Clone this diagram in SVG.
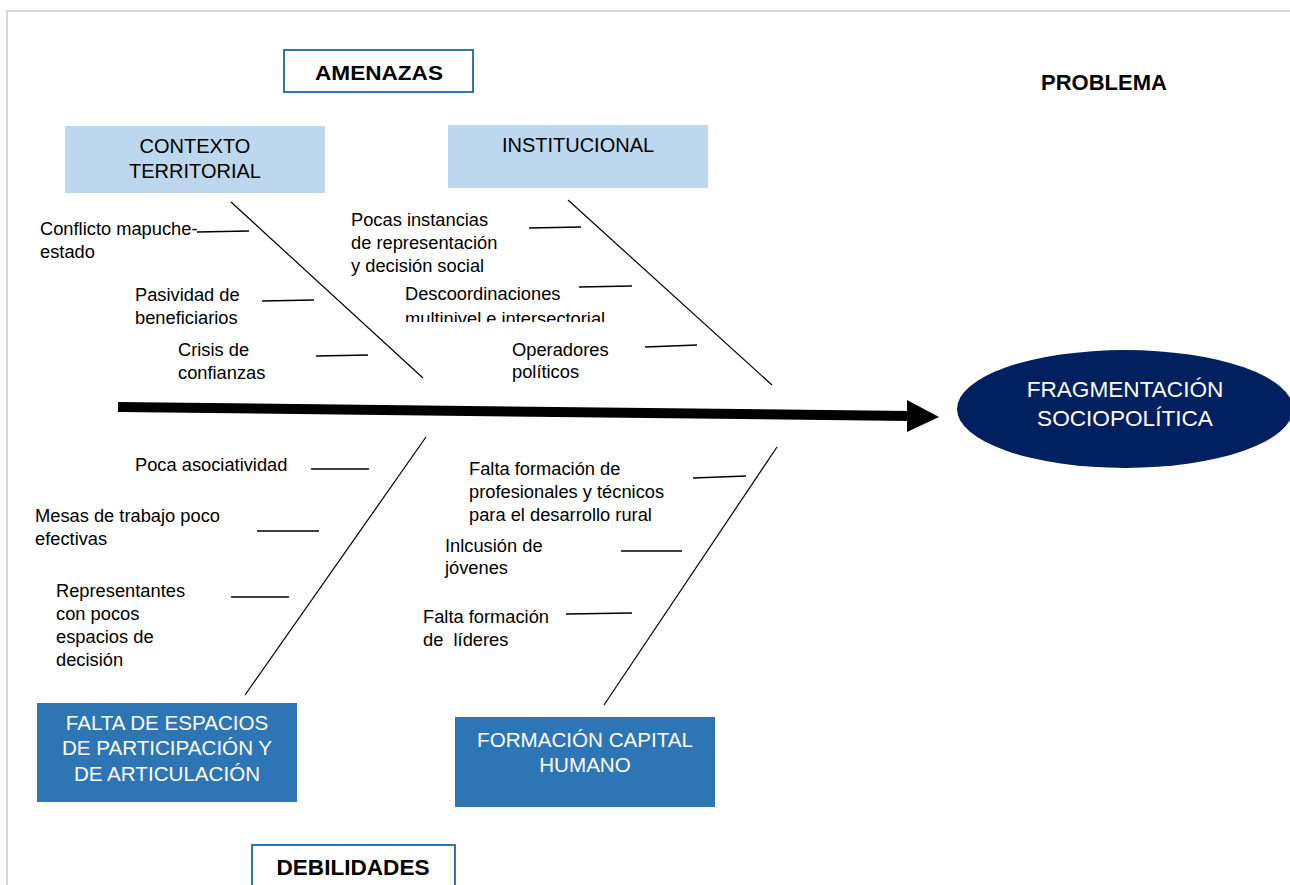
<svg xmlns="http://www.w3.org/2000/svg" width="1290" height="885" viewBox="0 0 1290 885">
<style>
text{font-family:"Liberation Sans",Arial,sans-serif;fill:#000}
.sm{font-size:18.3px}
.hd{font-size:20px;text-anchor:middle}
.wt{fill:#fff;font-size:20.6px}
.bd{font-weight:bold;text-anchor:middle}
.light{fill:#BDD7EE}
.dark{fill:#2E75B6}
.frame{fill:#fff;stroke:#2E75B6;stroke-width:2}
.bone{stroke:#000;stroke-width:1.2;fill:none}
.tick{stroke:#000;stroke-width:1.3;fill:none}
</style>
<defs>
<clipPath id="clipDesc"><rect x="380" y="280" width="260" height="42"/></clipPath>
</defs>
<rect width="1290" height="885" fill="#fff"/>
<path d="M7 885 V11 H1290" fill="none" stroke="#d9d9d9" stroke-width="2"/>

<g id="amenazas"><rect class="frame" x="284" y="50" width="189" height="42"/><text class="bd" x="379" y="80" font-size="20" textLength="128" lengthAdjust="spacingAndGlyphs">AMENAZAS</text></g>
<g id="problema"><text class="bd" x="1104" y="90" font-size="22">PROBLEMA</text></g>
<g id="debilidades"><rect class="frame" x="252" y="845" width="203" height="45"/><text class="bd" x="353" y="875" font-size="22" textLength="153" lengthAdjust="spacingAndGlyphs">DEBILIDADES</text></g>

<g id="contexto"><rect class="light" x="65" y="126" width="260" height="67"/><text class="hd" x="195" y="153">CONTEXTO</text><text class="hd" x="195" y="178">TERRITORIAL</text></g>
<g id="institucional"><rect class="light" x="448" y="125" width="260" height="63"/><text class="hd" x="578" y="152">INSTITUCIONAL</text></g>
<g id="falta-espacios"><rect class="dark" x="37" y="703" width="260" height="99"/><text class="hd wt" x="167" y="730">FALTA DE ESPACIOS</text><text class="hd wt" x="167" y="755">DE PARTICIPACIÓN Y</text><text class="hd wt" x="167" y="781">DE ARTICULACIÓN</text></g>
<g id="formacion"><rect class="dark" x="455" y="717" width="260" height="90"/><text class="hd wt" x="585" y="747">FORMACIÓN CAPITAL</text><text class="hd wt" x="585" y="772">HUMANO</text></g>
<g id="fragmentacion"><ellipse cx="1125" cy="409" rx="168" ry="59" fill="#012060"/><text x="1125" y="397" style="font-size:22.6px" text-anchor="middle" class="wt">FRAGMENTACIÓN</text><text x="1125" y="426" style="font-size:22.6px" text-anchor="middle" class="wt">SOCIOPOLÍTICA</text></g>

<g id="causes">
<text class="sm" x="40" y="235">Conflicto mapuche-</text><text class="sm" x="40" y="258">estado</text>
<text class="sm" x="135" y="301">Pasividad de</text><text class="sm" x="135" y="324">beneficiarios</text>
<text class="sm" x="178" y="356">Crisis de</text><text class="sm" x="178" y="379">confianzas</text>
<text class="sm" x="351" y="226">Pocas instancias</text><text class="sm" x="351" y="249">de representación</text><text class="sm" x="351" y="272">y decisión social</text>
<g clip-path="url(#clipDesc)"><text class="sm" x="405" y="300">Descoordinaciones</text><text class="sm" x="405" y="325">multinivel e intersectorial</text></g>
<text class="sm" x="512" y="356">Operadores</text><text class="sm" x="512" y="378">políticos</text>
<text class="sm" x="135" y="471">Poca asociatividad</text>
<text class="sm" x="35" y="522">Mesas de trabajo poco</text><text class="sm" x="35" y="545">efectivas</text>
<text class="sm" x="56" y="597">Representantes</text><text class="sm" x="56" y="620">con pocos</text><text class="sm" x="56" y="643">espacios de</text><text class="sm" x="56" y="666">decisión</text>
<text class="sm" x="469" y="475">Falta formación de</text><text class="sm" x="469" y="498">profesionales y técnicos</text><text class="sm" x="469" y="521">para el desarrollo rural</text>
<text class="sm" x="445" y="552">Inlcusión de</text><text class="sm" x="445" y="574">jóvenes</text>
<text class="sm" x="423" y="623">Falta formación</text><text class="sm" x="423" y="646" xml:space="preserve">de  líderes</text>
</g>

<g id="connectors">
<line x1="118" y1="407" x2="910" y2="416" stroke="#000" stroke-width="10"/>
<polygon points="907,400 939,417 907,432" fill="#000"/>
<line class="bone" x1="231" y1="202" x2="423" y2="378"/>
<line class="bone" x1="568" y1="200" x2="772" y2="385"/>
<line class="bone" x1="426" y1="437" x2="245" y2="695"/>
<line class="bone" x1="777" y1="447" x2="604" y2="705"/>
<line class="tick" x1="197" y1="232" x2="249" y2="231"/>
<line class="tick" x1="262" y1="301" x2="314" y2="300"/>
<line class="tick" x1="316" y1="356" x2="368" y2="355"/>
<line class="tick" x1="529" y1="228" x2="581" y2="227"/>
<line class="tick" x1="579" y1="287" x2="632" y2="286"/>
<line class="tick" x1="645" y1="347" x2="697" y2="345"/>
<line class="tick" x1="311" y1="469" x2="369" y2="469"/>
<line class="tick" x1="257" y1="531" x2="319" y2="531"/>
<line class="tick" x1="231" y1="597" x2="289" y2="597"/>
<line class="tick" x1="693" y1="478" x2="746" y2="476"/>
<line class="tick" x1="621" y1="551" x2="682" y2="551"/>
<line class="tick" x1="566" y1="614" x2="632" y2="613"/>
</g>
</svg>
